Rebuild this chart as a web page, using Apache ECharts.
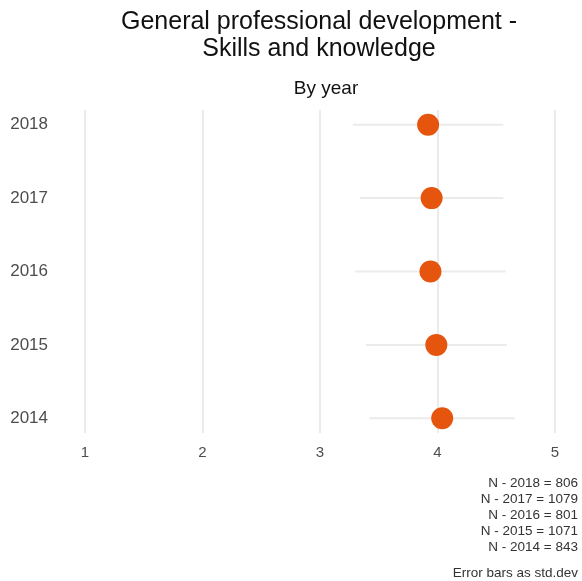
<!DOCTYPE html>
<html>
<head>
<meta charset="utf-8">
<script src="https://cdn.jsdelivr.net/npm/echarts@6/dist/echarts.min.js"></script>
<style>
  html, body { margin: 0; padding: 0; background: #fff; }
  #main { width: 582px; height: 581px; }
</style>
</head>
<body>
<div id="main"></div>
<script>
var chartDom = document.getElementById('main');
var myChart = echarts.init(chartDom);
var option;

// data (bottom to top)
var years = ['2014', '2015', '2016', '2017', '2018'];
var means = [4.04, 3.99, 3.94, 3.95, 3.92];
var sds = [0.62, 0.60, 0.64, 0.61, 0.64];
var counts = [843, 1071, 801, 1079, 806];
var xTicks = [1, 2, 3, 4, 5];

var fontFam = 'Liberation Sans, Arial, sans-serif';

// caption lines, newest year first
var captionLines = [];
for (var i = years.length - 1; i >= 0; i--) {
  captionLines.push('N - ' + years[i] + ' = ' + counts[i]);
}
var captionNote = 'Error bars as std.dev';

var barData = years.map(function (y, i) {
  return [means[i] - sds[i], means[i] + sds[i], i];
});
var pointData = years.map(function (y, i) {
  return [means[i], i];
});

option = {
  backgroundColor: '#fff',
  title: [
    {
      text: 'General professional development -\nSkills and knowledge',
      left: 314,
      top: 4,
      textAlign: 'center',
      textStyle: { fontFamily: fontFam, fontSize: 25, fontWeight: 'normal', color: '#111', lineHeight: 27 }
    },
    {
      text: 'By year',
      left: 321,
      top: 74,
      textAlign: 'center',
      textStyle: { fontFamily: fontFam, fontSize: 19, fontWeight: 'normal', color: '#111' }
    }
  ],
  graphic: [
    {
      type: 'text',
      x: 0,
      y: 0,
      style: {
        x: 578,
        y: 475,
        text: captionLines.join('\n'),
        fontFamily: fontFam,
        fontSize: 13.5,
        lineHeight: 16,
        fill: '#333',
        align: 'right',
        verticalAlign: 'top'
      }
    },
    {
      type: 'text',
      x: 0,
      y: 0,
      style: {
        x: 578,
        y: 565,
        text: captionNote,
        fontFamily: fontFam,
        fontSize: 13.5,
        lineHeight: 16,
        fill: '#333',
        align: 'right',
        verticalAlign: 'top'
      }
    }
  ],
  // grid 0: vertical grid lines + x labels; grid 1: the rows
  grid: [
    { left: 85, right: 27, top: 110, bottom: 148 },
    { left: 85, right: 27, top: 88, bottom: 126 }
  ],
  xAxis: [
    {
      gridIndex: 0,
      type: 'value',
      min: xTicks[0],
      max: xTicks[xTicks.length - 1],
      interval: 1,
      axisLine: { show: false },
      axisTick: { show: false },
      splitLine: { show: true, lineStyle: { color: '#ebebeb', width: 2 } },
      axisLabel: { color: '#4d4d4d', fontSize: 15, fontFamily: fontFam, margin: 12 }
    },
    {
      gridIndex: 1,
      type: 'value',
      min: xTicks[0],
      max: xTicks[xTicks.length - 1],
      show: false,
      splitLine: { show: false }
    }
  ],
  yAxis: [
    {
      gridIndex: 0,
      type: 'value',
      show: false,
      splitLine: { show: false }
    },
    {
      gridIndex: 1,
      type: 'category',
      data: years,
      axisLine: { show: false },
      axisTick: { show: false },
      splitLine: { show: false },
      axisLabel: { color: '#4d4d4d', fontSize: 17, fontFamily: fontFam, margin: 37 }
    }
  ],
  series: [
    {
      type: 'custom',
      xAxisIndex: 1,
      yAxisIndex: 1,
      data: barData,
      z: 1,
      renderItem: function (params, api) {
        var p1 = api.coord([api.value(0), api.value(2)]);
        var p2 = api.coord([api.value(1), api.value(2)]);
        return {
          type: 'line',
          shape: { x1: p1[0], y1: p1[1], x2: p2[0], y2: p2[1] },
          style: { stroke: '#ebebeb', lineWidth: 2 }
        };
      },
      silent: true
    },
    {
      type: 'scatter',
      xAxisIndex: 1,
      yAxisIndex: 1,
      data: pointData,
      symbolSize: 22,
      z: 5,
      itemStyle: { color: '#E6550D', opacity: 1 }
    }
  ]
};

option && myChart.setOption(option);
</script>
</body>
</html>
